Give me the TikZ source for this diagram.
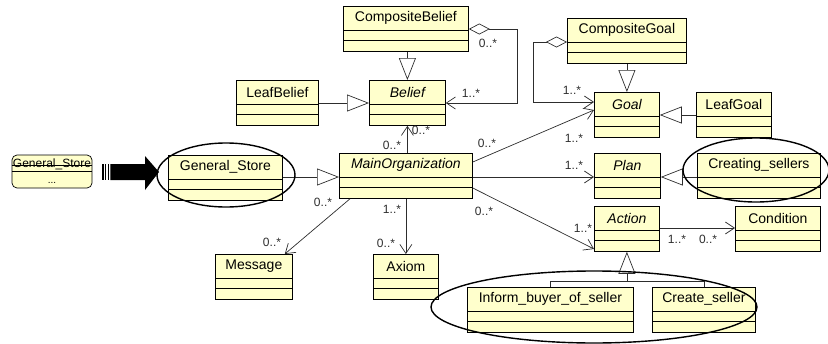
\documentclass[tikz,border=0pt]{standalone}
\usepackage{fontspec}
\setmainfont{Liberation Sans}
\usetikzlibrary{arrows.meta,shapes.geometric}

\definecolor{classfill}{RGB}{255,255,204}
\definecolor{inkgray}{RGB}{45,45,45}

\tikzset{
  classbox/.style={draw=black, fill=classfill, line width=0.8pt, inner sep=0pt,
    minimum height=45pt, rectangle},
  classname/.style={inner sep=0pt, font=\fontsize{14}{16}\selectfont, text=black},
  compline/.style={draw=black, line width=0.8pt},
  mult/.style={inner sep=0pt, font=\fontsize{12}{13}\selectfont, text=inkgray},
  link/.style={draw=inkgray, line width=0.7pt},
  gen/.style={link, -{Triangle[open, length=22pt, width=17pt]}},
  assoc/.style={link, -{Straight Barb[length=9pt, width=12pt]}},
  agg/.style={link, {Diamond[open, length=21pt, width=11pt]}-{Straight Barb[length=9pt, width=12pt]}},
  ring/.style={draw=black, line width=1.4pt},
}

% class box: node name, left x, top y, width, printed name
\newcommand\umlclass[5]{%
  \node[classbox, minimum width=#4pt, anchor=north west] (#1) at (#2,#3) {};
  \node[classname] (#1-name) at ([yshift=-12pt]#1.north) {#5};
  \draw[compline] ([yshift=-24pt]#1.north west) -- ([yshift=-24pt]#1.north east);
  \draw[compline] ([yshift=-34.5pt]#1.north west) -- ([yshift=-34.5pt]#1.north east);
}

\begin{document}
\begin{tikzpicture}[x=1pt, y=-1pt]
\useasboundingbox (0,0) rectangle (828,343);

% classes
\umlclass{CompositeBelief}{343}{6}{125}{CompositeBelief}
\umlclass{LeafBelief}{236}{80}{82}{LeafBelief}
\umlclass{Belief}{369}{80}{76}{\itshape Belief}
\umlclass{CompositeGoal}{567}{18}{119}{CompositeGoal}
\umlclass{Goal}{594}{92}{65}{\itshape Goal}
\umlclass{LeafGoal}{696}{92}{75}{LeafGoal}
\umlclass{GeneralStore}{168}{155}{114}{General\_Store}
\umlclass{MainOrganization}{339}{153}{133}{\itshape MainOrganization}
\umlclass{Plan}{594}{153}{66}{\itshape Plan}
\umlclass{CreatingSellers}{697}{153}{123}{Creating\_sellers}
\umlclass{Action}{594}{206}{65}{\itshape Action}
\umlclass{Condition}{735}{206}{85}{Condition}
\umlclass{Message}{215}{254}{77}{Message}
\umlclass{Axiom}{373}{254}{65}{Axiom}
\umlclass{Inform}{467}{287}{166}{Inform\_buyer\_of\_seller}
\umlclass{CreateSeller}{652}{287}{103}{Create\_seller}

% collapsed General_Store on the left
\node[draw=black, fill=classfill, line width=0.7pt, rounded corners=5pt,
      minimum width=80pt, minimum height=33pt, inner sep=0pt] (miniStore) at (52,171.5) {};
\node[inner sep=0pt, font=\fontsize{12}{13}\selectfont] (miniStoreName) at (52,164.5) {General\_Store};
\node[inner sep=0pt, font=\fontsize{10}{10}\selectfont] (miniStoreDots) at (52,182.5) {...};
\draw[line width=0.6pt] ([yshift=-11pt]miniStore.north west) -- ([yshift=-11pt]miniStore.north east);
\draw[line width=0.6pt] ([yshift=-16.5pt]miniStore.north west) -- ([yshift=-16.5pt]miniStore.north east);

% heavy arrow between the two stores
\fill[black] (102,164) rectangle (103.6,180);
\fill[black] (104.8,164) rectangle (106.4,180);
\fill[black] (107.6,164) rectangle (109.2,180);
\fill[black] (110.4,164) -- (145,164) -- (145,156) -- (159,172) -- (145,190) -- (145,180) -- (110.4,180) -- cycle;

% belief hierarchy
\draw[gen] (Belief.north |- CompositeBelief.south) -- (Belief.north);
\draw[gen] ([yshift=-23pt]LeafBelief.north east) -- ([yshift=-23pt]Belief.north west);
\draw[agg] ([yshift=-23pt]CompositeBelief.north east) -- ++(49,0) |- ([yshift=-23pt]Belief.north east);

% goal hierarchy
\draw[gen] (CompositeGoal.south) -- (Goal.north);
\draw[gen] ([yshift=-23pt]LeafGoal.north west) -- ([yshift=-23pt]Goal.north east);
\draw[agg] ([yshift=-24pt]CompositeGoal.north west) -- ++(-34,0) |- ([yshift=-10pt]Goal.north west);

% organisation links
\draw[gen] ([yshift=-22pt]GeneralStore.north east) -- ([yshift=-24pt]MainOrganization.north west);
\draw[assoc] (Belief.south |- MainOrganization.north) -- (Belief.south);
\draw[assoc] ([yshift=-9pt]MainOrganization.north east) -- ([yshift=-18pt]Goal.north west);
\draw[assoc] ([yshift=-24pt]MainOrganization.north east) -- ([yshift=-24pt]Plan.north west);
\draw[assoc] ([yshift=-35pt]MainOrganization.north east) -- ([yshift=-43pt]Action.north west);
\draw[assoc] ([xshift=11pt]MainOrganization.south west) -- ([xshift=-8pt]Message.north east);
\draw[assoc] (Axiom.north |- MainOrganization.south) -- (Axiom.north);

% plan and action
\draw[gen] ([yshift=-24pt]CreatingSellers.north west) -- ([yshift=-24pt]Plan.north east);
\draw[assoc] ([yshift=-22pt]Action.north east) -- ([yshift=-22pt]Condition.north west);
\coordinate (fork) at ([yshift=-30pt]Action.south);
\draw[gen] (fork) -- (Action.south);
\draw[link] (Inform.north) |- (fork);
\draw[link] (CreateSeller.north) |- (fork);

% multiplicities
\node[mult] (m1) at (488,43) {0..*};
\node[mult] (m2) at (471,93) {1..*};
\node[mult] (m3) at (572,90) {1..*};
\node[mult] (m4) at (421,130) {0..*};
\node[mult] (m5) at (392,145) {0..*};
\node[mult] (m6) at (487,143) {0..*};
\node[mult] (m7) at (574,138) {1..*};
\node[mult] (m8) at (574,165) {1..*};
\node[mult] (m9) at (484,211) {0..*};
\node[mult] (m10) at (583,228) {1..*};
\node[mult] (m11) at (323,202) {0..*};
\node[mult] (m12) at (272,242) {0..*};
\node[mult] (m13) at (392,209) {1..*};
\node[mult] (m14) at (386,243) {0..*};
\node[mult] (m15) at (677,239) {1..*};
\node[mult] (m16) at (708,239) {0..*};

% highlight rings
\draw[ring] (226,175) ellipse [x radius=69, y radius=32];
\draw[ring] (756,170) ellipse [x radius=73, y radius=32];
\draw[ring] (594,307) ellipse [x radius=163, y radius=36];
\end{tikzpicture}
\end{document}
